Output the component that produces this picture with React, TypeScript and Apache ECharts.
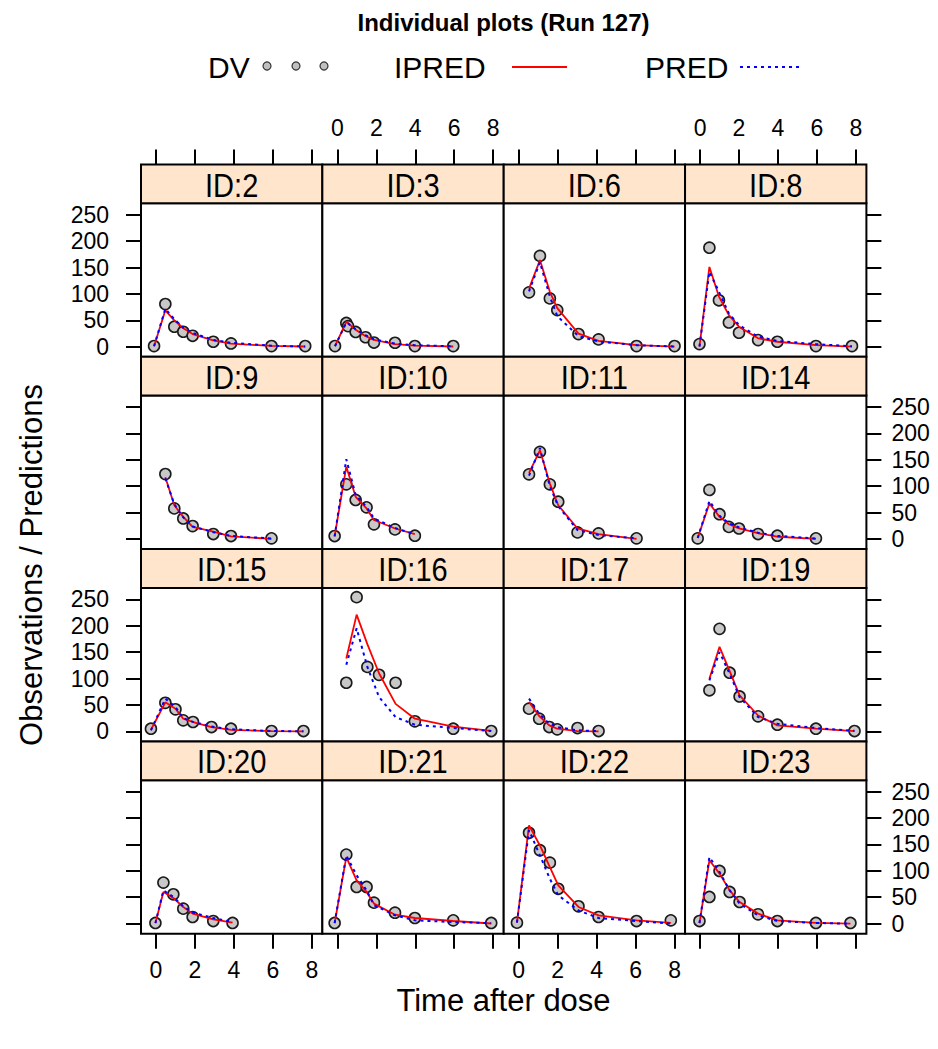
import React, { useEffect, useRef } from "react";
import * as echarts from "echarts";

// ---- data ----
const ids = [2, 3, 6, 8, 9, 10, 11, 14, 15, 16, 17, 19, 20, 21, 22, 23];
const xTicks = [0, 2, 4, 6, 8];
const yTicks = [0, 50, 100, 150, 200, 250];

const t2 = [-0.1, 0.48, 0.94, 1.4, 1.88, 2.94, 3.85, 5.93, 7.66];
const dv2 = [1.3, 80.8, 37.9, 28.4, 20.8, 9.5, 6.3, 1.3, 1.3];
const ipred2 = [1, 69, 50, 35, 24, 12, 6, 1.5, 0.5];
const pred2 = [1, 72, 52, 36, 26, 13, 7.5, 2, 0.5];

const t3 = [-0.12, 0.46, 0.55, 0.94, 1.45, 1.88, 2.96, 3.98, 5.95];
const dv3 = [1.3, 45, 39, 28, 18, 8, 7.6, 1.3, 1.3];
const ipred3 = [1, 47, 45, 32, 20, 13, 5, 2, 0.5];
const pred3 = [1, 46, 44, 33, 22, 14, 6, 3, 1];

const t6 = [0.53, 1.09, 1.6, 1.98, 3.07, 4.1, 6.05, 8.0];
const dv6 = [103, 172, 91.5, 69.4, 24, 13.9, 1.3, 1.3];
const ipred6 = [110, 164, 104, 73, 25, 11, 3, 0.3];
const pred6 = [105, 160, 95, 58, 20, 10, 3, 0.5];

const t8 = [-0.03, 0.48, 0.97, 1.48, 2.0, 2.98, 3.97, 5.95, 7.8];
const dv8 = [5, 187.5, 88, 46, 26.5, 12.6, 9.5, 1.3, 1.3];
const ipred8 = [0.5, 151, 95, 60, 38, 16, 9.5, 3, 0.3];
const pred8 = [0.5, 142, 104, 63, 41, 19, 11, 5, 1];

const t9 = [0.48, 0.94, 1.4, 1.88, 2.94, 3.85, 5.93];
const dv9 = [123, 58, 39, 24.6, 9.5, 5.7, 1.3];
const ipred9 = [117, 64, 42, 23, 14, 5, 0.5];
const pred9 = [115, 66, 41, 24, 13, 6, 1];

const t10 = [-0.14, 0.46, 0.94, 1.5, 1.88, 2.96, 3.98];
const dv10 = [5.7, 103.5, 74, 60, 27.8, 18.3, 6.3];
const ipred10 = [5, 137, 80, 58, 36, 20, 9.5];
const pred10 = [5, 151, 83, 61, 39, 21, 9];

const t11 = [0.53, 1.09, 1.6, 2.03, 3.02, 4.1, 6.05];
const dv11 = [122.5, 165, 103.5, 70.7, 12.6, 10.7, 1.3];
const ipred11 = [125, 168, 105, 64, 20, 9.5, 0.5];
const pred11 = [120, 172, 100, 62, 17, 7.6, 1.3];

const t14 = [-0.12, 0.48, 1.0, 1.48, 2.0, 2.98, 3.97, 5.95];
const dv14 = [1.3, 93, 47, 23, 20, 9.5, 6.3, 1.3];
const ipred14 = [2, 67.5, 42, 28, 20, 11, 4.4, 0.3];
const pred14 = [2, 72, 44, 30, 22, 12, 6, 1];

const t15 = [-0.26, 0.48, 1.0, 1.4, 1.9, 2.85, 3.85, 5.93, 7.57];
const dv15 = [5, 54, 41.7, 20.8, 17.7, 8.2, 5, 0.6, 0.6];
const ipred15 = [3, 55, 43, 24, 17.7, 8, 3, 0.3, 0];
const pred15 = [2, 62, 46, 25, 18, 9, 4, 0.6, 0.3];

const t16 = [0.46, 0.99, 1.54, 2.14, 2.99, 3.98, 5.95, 7.9];
const dv16 = [92, 254, 122, 107, 92, 19, 5, 0.6];
const ipred16 = [138, 221, 165, 110, 52, 24, 9, 1];
const pred16 = [126, 195, 122, 65, 27, 12.6, 6.3, 0.6];

const t17 = [0.53, 1.05, 1.57, 1.98, 3.02, 4.1];
const dv17 = [43, 24, 8.2, 3.8, 6.3, 0.6];
const ipred17 = [55.5, 29, 11.4, 5, 0.5, 0];
const pred17 = [62, 33.5, 14.5, 8, 2, 0.3];

const t19 = [0.48, 1.0, 1.52, 2.03, 2.98, 3.97, 5.95, 7.93];
const dv19 = [77.7, 194, 111, 66, 28.4, 12.6, 5, 0.6];
const ipred19 = [99.7, 160, 114, 68, 30, 11.4, 5, 0.6];
const pred19 = [96.6, 150, 109, 65, 27, 14.5, 6.3, 1];

const t20 = [-0.03, 0.38, 0.89, 1.4, 1.88, 2.94, 3.93];
const dv20 = [1.3, 77.7, 55.6, 28.4, 12.6, 5, 1.3];
const ipred20 = [1, 60, 48.6, 31.6, 19, 8.2, 1.9];
const pred20 = [1, 63, 50.5, 32.8, 21, 10.7, 3];

const t21 = [-0.14, 0.46, 0.99, 1.5, 1.88, 2.96, 3.98, 5.95, 7.9];
const dv21 = [1.3, 130.7, 69.4, 69.4, 39.8, 20.8, 10.7, 6.3, 1.3];
const ipred21 = [1, 126, 82, 60, 38, 17, 10.7, 5, 0.3];
const pred21 = [1, 129, 91.5, 63, 35, 15.8, 6.3, 3, 1];

const t22 = [-0.09, 0.53, 1.09, 1.6, 2.03, 3.07, 4.1, 6.05, 7.81];
const dv22 = [1.9, 172, 139, 115.5, 66, 32.8, 12.6, 5, 6.3];
const ipred22 = [2, 186, 148, 107, 72.6, 31.6, 15.8, 6.3, 1.3];
const pred22 = [2, 177, 129, 85, 53.6, 25, 10.7, 5, 0.3];

const t23 = [-0.03, 0.48, 1.0, 1.52, 2.03, 2.98, 3.97, 5.95, 7.72];
const dv23 = [5, 50.5, 99.7, 60, 41, 17.7, 5, 1.3, 1.3];
const ipred23 = [1, 120, 94.7, 63, 41, 19, 6.3, 1.3, 0];
const pred23 = [1, 126, 98, 63, 38, 15.8, 5, 1.3, 0];

const times = [t2, t3, t6, t8, t9, t10, t11, t14, t15, t16, t17, t19, t20, t21, t22, t23];
const dvs = [dv2, dv3, dv6, dv8, dv9, dv10, dv11, dv14, dv15, dv16, dv17, dv19, dv20, dv21, dv22, dv23];
const ipreds = [ipred2, ipred3, ipred6, ipred8, ipred9, ipred10, ipred11, ipred14, ipred15, ipred16, ipred17, ipred19, ipred20, ipred21, ipred22, ipred23];
const preds = [pred2, pred3, pred6, pred8, pred9, pred10, pred11, pred14, pred15, pred16, pred17, pred19, pred20, pred21, pred22, pred23];

// ---- layout ----
const FONT = "'Liberation Sans', Arial, sans-serif";
const L0 = 141;
const PW = 181.35;
const T0 = 203.3;
const PH = 153.5;
const RP = 192.3;
const SH = 38.8;
const XMIN = -0.77;
const XMAX = 8.54;
const YMIN = -19;
const YMAX = 271.5;

function buildOption() {
  const grids: any[] = [];
  const xAxes: any[] = [];
  const yAxes: any[] = [];
  const series: any[] = [];
  const graphics: any[] = [];

  ids.forEach((id, i) => {
    const r = Math.floor(i / 4);
    const c = i % 4;
    const left = L0 + c * PW;
    const top = T0 + r * RP;
    grids.push({
      left,
      top,
      width: PW,
      height: PH,
      show: true,
      borderColor: "#000",
      borderWidth: 2,
      backgroundColor: "#fff",
      containLabel: false,
    });
    const xShow = r === 0 || r === 3;
    xAxes.push({
      gridIndex: i,
      type: "value",
      min: XMIN,
      max: XMAX,
      position: r === 0 ? "top" : "bottom",
      offset: r === 0 ? SH : 0,
      show: xShow,
      axisLine: { show: false, onZero: false },
      axisTick: {
        show: true,
        inside: false,
        length: 15,
        customValues: xTicks,
        lineStyle: { color: "#000", width: 2 },
      },
      axisLabel: {
        show: r === 0 ? c % 2 === 1 : c % 2 === 0,
        customValues: xTicks,
        fontSize: 23,
        fontFamily: FONT,
        color: "#000",
        margin: 25,
      },
      splitLine: { show: false },
    });
    const yShow = c === 0 || c === 3;
    yAxes.push({
      gridIndex: i,
      type: "value",
      min: YMIN,
      max: YMAX,
      position: c === 3 ? "right" : "left",
      show: yShow,
      axisLine: { show: false, onZero: false },
      axisTick: {
        show: true,
        inside: false,
        length: 15,
        customValues: yTicks,
        lineStyle: { color: "#000", width: 2 },
      },
      axisLabel: {
        show: c === 0 ? r % 2 === 0 : r % 2 === 1,
        customValues: yTicks,
        fontSize: 23,
        fontFamily: FONT,
        color: "#000",
        margin: c === 0 ? 32 : 25,
      },
      splitLine: { show: false },
    });

    const t = times[i];
    series.push({
      type: "scatter",
      xAxisIndex: i,
      yAxisIndex: i,
      data: t.map((x, k) => [x, dvs[i][k]]),
      symbol: "circle",
      symbolSize: 11,
      itemStyle: { color: "#c8c8c8", borderColor: "#1a1a1a", borderWidth: 1.6, opacity: 1 },
      z: 2,
      silent: true,
    });
    series.push({
      type: "line",
      xAxisIndex: i,
      yAxisIndex: i,
      data: t.map((x, k) => [x, ipreds[i][k]]),
      showSymbol: false,
      lineStyle: { color: "#ff0000", width: 1.8 },
      z: 3,
      silent: true,
    });
    series.push({
      type: "line",
      xAxisIndex: i,
      yAxisIndex: i,
      data: t.map((x, k) => [x, preds[i][k]]),
      showSymbol: false,
      lineStyle: { color: "#0000ff", width: 2, type: [3, 4] },
      z: 4,
      silent: true,
    });

    // strip
    graphics.push({
      type: "rect",
      shape: { x: left, y: top - SH, width: PW, height: SH },
      style: { fill: "#ffe5cc", stroke: "#000", lineWidth: 2 },
      z: 10,
    });
    graphics.push({
      type: "text",
      x: left + PW / 2,
      y: top - SH / 2 + 1.5,
      scaleX: 0.88,
      style: {
        text: "ID:" + id,
        fontSize: 33,
        fontFamily: FONT,
        fill: "#000",
        align: "center",
        verticalAlign: "middle",
      },
      z: 11,
    });
  });

  // title
  graphics.push({
    type: "text",
    x: 503.5,
    y: 22,
    style: {
      text: "Individual plots (Run 127)",
      fontSize: 24,
      fontWeight: "bold",
      fontFamily: FONT,
      fill: "#000",
      align: "center",
      verticalAlign: "middle",
    },
  });
  // legend
  const ly = 67;
  graphics.push({
    type: "text",
    x: 208,
    y: ly,
    style: { text: "DV", fontSize: 30, fontFamily: FONT, fill: "#000", align: "left", verticalAlign: "middle" },
  });
  [267, 296, 324].forEach((cx) => {
    graphics.push({
      type: "circle",
      shape: { cx, cy: ly - 1, r: 4 },
      style: { fill: "#c0c0c0", stroke: "#333", lineWidth: 1.2 },
    });
  });
  graphics.push({
    type: "text",
    x: 394,
    y: ly,
    style: { text: "IPRED", fontSize: 30, fontFamily: FONT, fill: "#000", align: "left", verticalAlign: "middle" },
  });
  graphics.push({
    type: "line",
    shape: { x1: 512, y1: ly, x2: 567, y2: ly },
    style: { stroke: "#ff0000", lineWidth: 2 },
  });
  graphics.push({
    type: "text",
    x: 645,
    y: ly,
    style: { text: "PRED", fontSize: 30, fontFamily: FONT, fill: "#000", align: "left", verticalAlign: "middle" },
  });
  graphics.push({
    type: "line",
    shape: { x1: 740, y1: ly, x2: 800, y2: ly },
    style: { stroke: "#0000ff", lineWidth: 2, lineDash: [3, 4] },
  });
  // axis titles
  graphics.push({
    type: "text",
    x: 503.5,
    y: 1000,
    style: { text: "Time after dose", fontSize: 31, fontFamily: FONT, fill: "#000", align: "center", verticalAlign: "middle" },
  });
  graphics.push({
    type: "text",
    x: 31,
    y: 565,
    rotation: Math.PI / 2,
    style: {
      text: "Observations / Predictions",
      fontSize: 31,
      fontFamily: FONT,
      fill: "#000",
      align: "center",
      verticalAlign: "middle",
    },
  });

  return {
    animation: false,
    backgroundColor: "#fff",
    grid: grids,
    xAxis: xAxes,
    yAxis: yAxes,
    series,
    graphic: graphics,
  };
}

export default function App() {
  const ref = useRef<HTMLDivElement>(null);
  useEffect(() => {
    if (!ref.current) return;
    const chart = echarts.init(ref.current, undefined, { renderer: "svg" });
    chart.setOption(buildOption() as any);
    return () => chart.dispose();
  }, []);
  return (
    <div
      ref={ref}
      style={{ position: "absolute", left: 0, top: 0, width: 938, height: 1049, background: "#fff" }}
    />
  );
}
